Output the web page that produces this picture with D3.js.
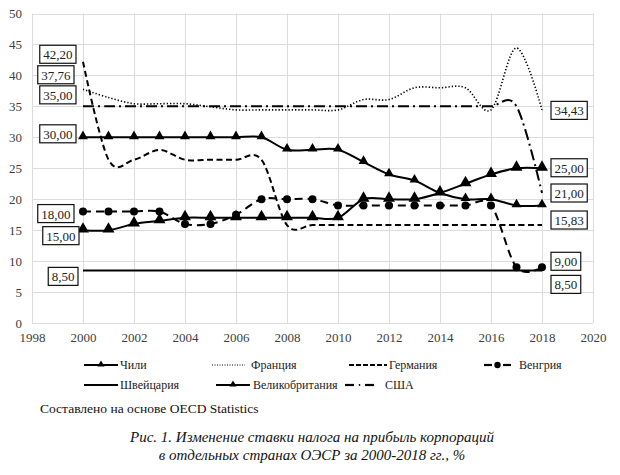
<!DOCTYPE html>
<html>
<head>
<meta charset="utf-8">
<script src="https://cdn.jsdelivr.net/npm/d3@7"></script>
<style>
  html, body { margin: 0; padding: 0; background: #fff; }
  svg { display: block; }
</style>
</head>
<body>
<svg id="chart" width="620" height="475"></svg>
<script>
// ---------------- DATA ----------------
const years = [2000, 2001, 2002, 2003, 2004, 2005, 2006, 2007, 2008, 2009,
               2010, 2011, 2012, 2013, 2014, 2015, 2016, 2017, 2018];

const chile       = [15, 15, 16, 16.5, 17, 17, 17, 17, 17, 17, 17, 20, 20, 20, 21, 22.5, 24, 25, 25];
const france      = [37.76, 36.43, 35.43, 35.43, 35.43, 34.93, 34.43, 34.43, 34.43, 34.43, 34.43, 36.1, 36.1, 38, 38, 38, 34.43, 44.43, 34.43];
const germany     = [42.2, 26.38, 26.38, 27.96, 26.38, 26.38, 26.38, 26.38, 15.83, 15.83, 15.83, 15.83, 15.83, 15.83, 15.83, 15.83, 15.83, 15.83, 15.83];
const hungary     = [18, 18, 18, 18, 16, 16, 17.5, 20, 20, 20, 19, 19, 19, 19, 19, 19, 19, 9, 9];
const switzerland = [8.5, 8.5, 8.5, 8.5, 8.5, 8.5, 8.5, 8.5, 8.5, 8.5, 8.5, 8.5, 8.5, 8.5, 8.5, 8.5, 8.5, 8.5, 8.5];
const uk          = [30, 30, 30, 30, 30, 30, 30, 30, 28, 28, 28, 26, 24, 23, 21, 20, 20, 19, 19];
const usa         = [35, 35, 35, 35, 35, 35, 35, 35, 35, 35, 35, 35, 35, 35, 35, 35, 35, 35, 21];

const seriesNames = ["Чили", "Франция", "Германия", "Венгрия", "Швейцария", "Великобритания", "США"];

const xTicks = [1998, 2000, 2002, 2004, 2006, 2008, 2010, 2012, 2014, 2016, 2018, 2020];
const yTicks = [0, 5, 10, 15, 20, 25, 30, 35, 40, 45, 50];

const sourceText = "Составлено на основе OECD Statistics";
const captionLines = ["Рис. 1. Изменение ставки налога на прибыль корпораций",
                      "в отдельных странах ОЭСР за 2000-2018 гг., %"];

// ---------------- STYLE / LAYOUT ----------------
const seriesStyle = {
  "Чили":           { values: chile,       dash: null,         width: 2,   marker: "tri", msize: 62 },
  "Франция":        { values: france,      dash: "1.3,2",      width: 1.6, marker: null },
  "Германия":       { values: germany,     dash: "6,3.5",      width: 2,   marker: null },
  "Венгрия":        { values: hungary,     dash: "8,5",        width: 2,   marker: "circle", msize: 4 },
  "Швейцария":      { values: switzerland, dash: null,         width: 2,   marker: null },
  "Великобритания": { values: uk,          dash: null,         width: 2,   marker: "tri", msize: 42 },
  "США":            { values: usa,         dash: "11,4,2,4",   width: 2,   marker: null }
};

// value labels: which end, pixel nudges
const labelLayout = [
  { s: "Германия",       side: "L", dy: -7.5, dx: 0 },
  { s: "Франция",        side: "L", dy: -14.5, dx: -2 },
  { s: "США",            side: "L", dy: -11.5, dx: 0 },
  { s: "Великобритания", side: "L", dy: -3.5, dx: 0 },
  { s: "Венгрия",        side: "L", dy: 2,    dx: -2 },
  { s: "Чили",           side: "L", dy: 5.5,  dx: 3 },
  { s: "Швейцария",      side: "L", dy: 6,    dx: 2 },
  { s: "Франция",        side: "R", dy: 0.5,  dx: 0 },
  { s: "Чили",           side: "R", dy: -0.5, dx: 0 },
  { s: "США",            side: "R", dy: 0,    dx: 0 },
  { s: "Германия",       side: "R", dy: -5,   dx: 0 },
  { s: "Венгрия",        side: "R", dy: -6,   dx: 0 },
  { s: "Швейцария",      side: "R", dy: 14,   dx: 0 }
];

const legendLayout = [
  { s: "Чили",           x0: 84,  x1: 118, tx: 120, row: 0 },
  { s: "Франция",        x0: 212, x1: 245, tx: 251, row: 0 },
  { s: "Германия",       x0: 349, x1: 387, tx: 389, row: 0 },
  { s: "Венгрия",        x0: 484, x1: 511, tx: 519, row: 0 },
  { s: "Швейцария",      x0: 84,  x1: 118, tx: 120, row: 1 },
  { s: "Великобритания", x0: 216, x1: 250, tx: 253, row: 1 },
  { s: "США",            x0: 345, x1: 374, tx: 385, row: 1 }
];
const legendRows = [365, 385];

const FONT = "'Liberation Serif', 'Times New Roman', serif";
const INK = "#000";

// ---------------- CHART ----------------
const svg = d3.select("#chart");
const plot = { left: 32, right: 593, top: 13.5, bottom: 323 };

const x = d3.scaleLinear().domain([1998, 2020]).range([plot.left, plot.right]);
const y = d3.scaleLinear().domain([0, 50]).range([plot.bottom, plot.top]);

// grid
const grid = svg.append("g");
grid.selectAll("line.v").data(xTicks).join("line")
  .attr("x1", d => x(d) + 0.5).attr("x2", d => x(d) + 0.5)
  .attr("y1", plot.top).attr("y2", plot.bottom)
  .attr("stroke", "#dcdcdc").attr("stroke-width", 1);
grid.selectAll("line.h").data(yTicks).join("line")
  .attr("x1", plot.left).attr("x2", plot.right)
  .attr("y1", d => Math.round(y(d)) + 0.5).attr("y2", d => Math.round(y(d)) + 0.5)
  .attr("stroke", "#dcdcdc").attr("stroke-width", 1);

// axes (labels only, via d3 axes)
const yAxis = svg.append("g")
  .attr("transform", `translate(${plot.left},0)`)
  .call(d3.axisLeft(y).tickValues(yTicks).tickSize(0).tickPadding(10).tickFormat(d3.format("d")));
const xAxis = svg.append("g")
  .attr("transform", `translate(0,${plot.bottom})`)
  .call(d3.axisBottom(x).tickValues(xTicks).tickSize(0).tickPadding(10).tickFormat(d3.format("d")));
[yAxis, xAxis].forEach(a => {
  a.select(".domain").remove();
  a.selectAll("text").attr("font-family", FONT).attr("font-size", 13).attr("fill", "#404040");
});

// lines
const lineGen = d3.line().x(d => x(d.year)).y(d => y(d.v)).curve(d3.curveCardinal.tension(0));
const drawOrder = ["Швейцария", "Германия", "Венгрия", "Франция", "США", "Великобритания", "Чили"];
const triangle = d3.symbol().type(d3.symbolTriangle);

drawOrder.forEach(name => {
  const st = seriesStyle[name];
  const pts = years.map((yr, i) => ({ year: yr, v: st.values[i] }));
  svg.append("path").datum(pts)
    .attr("d", lineGen)
    .attr("fill", "none").attr("stroke", INK)
    .attr("stroke-width", st.width)
    .attr("stroke-dasharray", st.dash);
  if (st.marker === "tri") {
    svg.append("g").selectAll("path").data(pts).join("path")
      .attr("transform", d => `translate(${x(d.year)},${y(d.v) - 1})`)
      .attr("d", triangle.size(st.msize)).attr("fill", INK);
  } else if (st.marker === "circle") {
    svg.append("g").selectAll("circle").data(pts).join("circle")
      .attr("cx", d => x(d.year)).attr("cy", d => y(d.v)).attr("r", st.msize).attr("fill", INK);
  }
});

// value labels
const fmt = v => d3.format(".2f")(v).replace(".", ",");
const lbl = svg.append("g");
labelLayout.forEach(L => {
  const vals = seriesStyle[L.s].values;
  const idx = L.side === "L" ? 0 : vals.length - 1;
  const v = vals[idx];
  const cy = y(v) + L.dy;
  const g = lbl.append("g");
  const t = g.append("text")
    .attr("font-family", FONT).attr("font-size", 13).attr("fill", "#222")
    .attr("dominant-baseline", "central")
    .text(fmt(v));
  const tw = t.node().getComputedTextLength();
  const bw = tw + 7, bh = 18;
  let bx;
  if (L.side === "L") bx = x(years[0]) - 7 + L.dx - bw;
  else bx = x(years[years.length - 1]) + 9 + L.dx;
  g.insert("rect", "text")
    .attr("x", bx).attr("y", cy - bh / 2).attr("width", bw).attr("height", bh)
    .attr("fill", "#fff").attr("stroke", "#111").attr("stroke-width", 1.2);
  t.attr("x", bx + bw / 2).attr("y", cy + 0.5).attr("text-anchor", "middle");
});

// legend
const leg = svg.append("g");
legendLayout.forEach(L => {
  const st = seriesStyle[L.s];
  const ly = legendRows[L.row];
  if (L.s === "Венгрия") {
    leg.append("line").attr("x1", L.x0).attr("x2", L.x0 + 8).attr("y1", ly).attr("y2", ly)
      .attr("stroke", INK).attr("stroke-width", 2.2);
    leg.append("circle").attr("cx", (L.x0 + L.x1) / 2).attr("cy", ly).attr("r", 3.2).attr("fill", INK);
    leg.append("line").attr("x1", L.x1 - 8).attr("x2", L.x1).attr("y1", ly).attr("y2", ly)
      .attr("stroke", INK).attr("stroke-width", 2.2);
  } else if (L.s === "США") {
    leg.append("line").attr("x1", L.x0).attr("x2", L.x0 + 9).attr("y1", ly).attr("y2", ly)
      .attr("stroke", INK).attr("stroke-width", 2.2);
    leg.append("circle").attr("cx", (L.x0 + L.x1) / 2).attr("cy", ly).attr("r", 0.9).attr("fill", INK);
    leg.append("line").attr("x1", L.x1 - 9).attr("x2", L.x1).attr("y1", ly).attr("y2", ly)
      .attr("stroke", INK).attr("stroke-width", 2.2);
  } else {
    const dotted = st.dash && st.dash.startsWith("1.3");
    leg.append("line").attr("x1", L.x0).attr("x2", L.x1).attr("y1", ly).attr("y2", ly)
      .attr("stroke", INK).attr("stroke-width", dotted ? 1 : 2)
      .attr("stroke-dasharray", dotted ? "1,1.5" : (st.dash ? "5,2" : null));
    if (st.marker === "tri") {
      leg.append("path").attr("transform", `translate(${(L.x0 + L.x1) / 2},${ly - 0.5})`)
        .attr("d", d3.symbol().type(d3.symbolTriangle).size(22)()).attr("fill", INK);
    }
  }
  leg.append("text").attr("x", L.tx).attr("y", ly).attr("dominant-baseline", "central")
    .attr("font-family", FONT).attr("font-size", 12).attr("fill", "#222").text(L.s);
});

// source and caption
svg.append("text").attr("x", 40).attr("y", 413)
  .attr("font-family", FONT).attr("font-size", 13.5).attr("fill", "#111").text(sourceText);
svg.append("g").selectAll("text").data(captionLines).join("text")
  .attr("x", 312).attr("y", (d, i) => 442 + i * 18)
  .attr("text-anchor", "middle")
  .attr("font-family", FONT).attr("font-size", 15).attr("font-style", "italic").attr("fill", "#111")
  .text(d => d);
</script>
</body>
</html>
